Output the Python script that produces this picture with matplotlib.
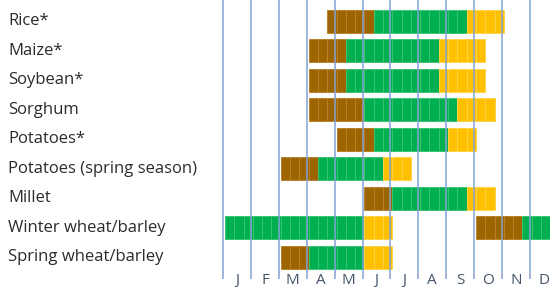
import matplotlib
matplotlib.use("Agg")
import matplotlib.pyplot as plt
import matplotlib.transforms as mtransforms

crops = [
    "Rice*",
    "Maize*",
    "Soybean*",
    "Sorghum",
    "Potatoes*",
    "Potatoes (spring season)",
    "Millet",
    "Winter wheat/barley",
    "Spring wheat/barley",
]
months = ["J", "F", "M", "A", "M", "J", "J", "A", "S", "O", "N", "D"]

# periods in dekads (10-day steps, 0..36)
planting = [[(11, 16)], [(9, 13)], [(9, 13)], [(9, 15)], [(12, 16)],
            [(6, 10)], [(15, 18)], [(27, 32)], [(6, 9)]]
growing = [[(16, 26)], [(13, 23)], [(13, 23)], [(15, 25)], [(16, 24)],
           [(10, 17)], [(18, 26)], [(0, 15), (32, 36)], [(9, 15)]]
harvest = [[(26, 30)], [(23, 28)], [(23, 28)], [(25, 29)], [(24, 27)],
           [(17, 20)], [(26, 29)], [(15, 18)], [(15, 18)]]

phases = [
    (planting, "#9C6500", "#B8832C"),
    (growing, "#00B050", "#3DC473"),
    (harvest, "#FFC000", "#FFD247"),
]

W, H = 550, 289
fig = plt.figure(figsize=(W / 100, H / 100), dpi=100)
ax = fig.add_axes([220 / W, 0, 330 / W, 1])

for periods, color, edge in phases:
    for row, spans in enumerate(periods):
        for start, end in spans:
            for d in range(start, end):
                ax.barh(row, 1, left=d, height=0.78, color=color,
                        edgecolor=edge, linewidth=0.7, zorder=2)

line_shift = -0.2
for m in range(12):
    ax.plot([3 * m + line_shift] * 2, [-1, 8.72], color="#84A2D6",
            linewidth=1.1, zorder=3, solid_capstyle="butt")
    ax.text(3 * m + 1.5 + line_shift, 9.03, months[m], ha="center",
            va="bottom", fontsize=11, color="#44546A", family="Open Sans")

trans = mtransforms.blended_transform_factory(fig.transFigure, ax.transData)
for row, name in enumerate(crops):
    ax.text(8 / W, row, name, transform=trans, ha="left", va="center",
            fontsize=12, color="#2B2B2B", family="Open Sans")

ax.set_xlim(-0.54, 34.97)
ax.set_ylim(9.075, -0.722)
ax.axis("off")

fig.savefig("out.png", dpi=100)
